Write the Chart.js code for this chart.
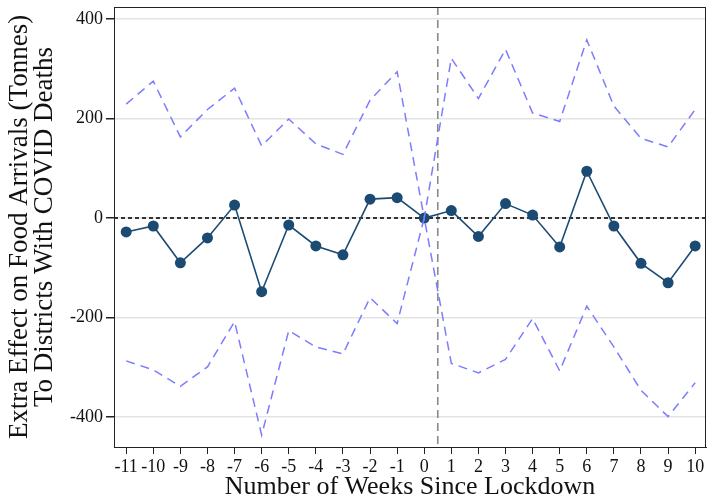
<!DOCTYPE html>
<html>
<head>
<meta charset="utf-8">
<script src="https://cdn.jsdelivr.net/npm/chart.js@4/dist/chart.umd.min.js"></script>
<style>
  html, body { margin: 0; padding: 0; background: #fff; overflow: hidden; }
  #wrap { width: 707px; height: 500px; }
</style>
</head>
<body>
<div id="wrap"><canvas id="chart"></canvas></div>
<script>
// weeks relative to lockdown
const weeks = [-11, -10, -9, -8, -7, -6, -5, -4, -3, -2, -1, 0, 1, 2, 3, 4, 5, 6, 7, 8, 9, 10];
// point estimates (tonnes)
const estimate = [-28, -16, -90, -40, 26, -148, -14, -56, -74, 38, 41, 0, 15, -37, 29, 6, -58, 94, -16, -91, -130, -56];
// 95% confidence bounds
const upperCI = [229, 275, 163, 218, 261, 145, 199, 149, 128, 237, 294, 0, 321, 240, 339, 211, 194, 358, 225, 160, 143, 218];
const lowerCI = [-287, -305, -338, -299, -208, -436, -226, -259, -273, -160, -212, 0, -292, -311, -284, -202, -307, -177, -259, -346, -399, -331];
const yTicks = [400, 200, 0, -200, -400];

const pts = arr => arr.map((v, i) => ({ x: weeks[i], y: v }));
const serif = 'Liberation Serif';

// zero line, lockdown line and box frame
const refLines = {
    id: 'refLines',
    beforeDatasetsDraw(chart) {
        const { ctx, chartArea: a, scales: { x, y } } = chart;
        ctx.save();
        ctx.lineWidth = 1.6;
        ctx.strokeStyle = '#8a8a8a';
        ctx.setLineDash([8, 5]);
        const vx = x.getPixelForValue(0.5);
        ctx.beginPath(); ctx.moveTo(vx, a.top); ctx.lineTo(vx, a.bottom); ctx.stroke();
        ctx.lineWidth = 2;
        ctx.strokeStyle = '#333';
        ctx.setLineDash([4, 3]);
        const zy = y.getPixelForValue(0);
        ctx.beginPath(); ctx.moveTo(a.left, zy); ctx.lineTo(a.right, zy); ctx.stroke();
        ctx.restore();
    },
    afterDraw(chart) {
        const { ctx, chartArea: a } = chart;
        ctx.save();
        ctx.strokeStyle = '#222';
        ctx.lineWidth = 1;
        ctx.strokeRect(a.left + 0.5, a.top + 0.5, a.right - a.left - 1, a.bottom - a.top);
        ctx.restore();
    }
};

new Chart(document.getElementById('chart'), {
    type: 'line',
    data: {
        datasets: [
            {
                label: 'Upper CI',
                data: pts(upperCI),
                borderColor: '#7c7cff',
                borderWidth: 1.5,
                borderDash: [9, 6],
                pointRadius: 0,
                tension: 0
            },
            {
                label: 'Lower CI',
                data: pts(lowerCI),
                borderColor: '#7c7cff',
                borderWidth: 1.5,
                borderDash: [9, 6],
                pointRadius: 0,
                tension: 0
            },
            {
                label: 'Estimate',
                data: pts(estimate),
                borderColor: '#1b4a73',
                backgroundColor: '#1b4a73',
                borderWidth: 1.6,
                pointRadius: 5.5,
                pointBorderWidth: 0,
                tension: 0
            }
        ]
    },
    options: {
        responsive: true,
        maintainAspectRatio: false,
        animation: false,
        layout: { autoPadding: false, padding: { top: 7, right: 1, left: 0, bottom: 0 } },
        plugins: { legend: { display: false }, tooltip: { enabled: false } },
        scales: {
            x: {
                type: 'linear',
                min: -11.45,
                max: 10.4,
                afterBuildTicks: s => { s.ticks = weeks.map(v => ({ value: v })); },
                afterFit: s => { s.height = 53; s.paddingLeft = 0; s.paddingRight = 0; },
                grid: { drawOnChartArea: false, tickLength: 7, tickColor: '#222' },
                border: { color: '#222' },
                ticks: { color: '#111', font: { family: serif, size: 18 }, padding: 2, maxRotation: 0, autoSkip: false },
                title: {
                    display: true,
                    text: 'Number of Weeks Since Lockdown',
                    color: '#111',
                    font: { family: serif, size: 26, lineHeight: 1.0 },
                    padding: { top: 0, bottom: 0 }
                }
            },
            y: {
                min: -460,
                max: 424,
                afterBuildTicks: s => { s.ticks = yTicks.map(v => ({ value: v })); },
                afterFit: s => { s.width = 114; s.paddingTop = 0; s.paddingBottom = 0; },
                grid: { color: '#e3e3e3', lineWidth: 1.5, tickLength: 8, tickColor: '#222' },
                border: { color: '#222' },
                ticks: { color: '#111', font: { family: serif, size: 18 }, padding: 3 },
                title: {
                    display: true,
                    text: ['Extra Effect on Food Arrivals (Tonnes)', 'To Districts With COVID Deaths'],
                    color: '#111',
                    font: { family: serif, size: 27, lineHeight: 0.93 },
                    padding: { top: 7, bottom: 0 }
                }
            }
        }
    },
    plugins: [refLines]
});
</script>
</body>
</html>
